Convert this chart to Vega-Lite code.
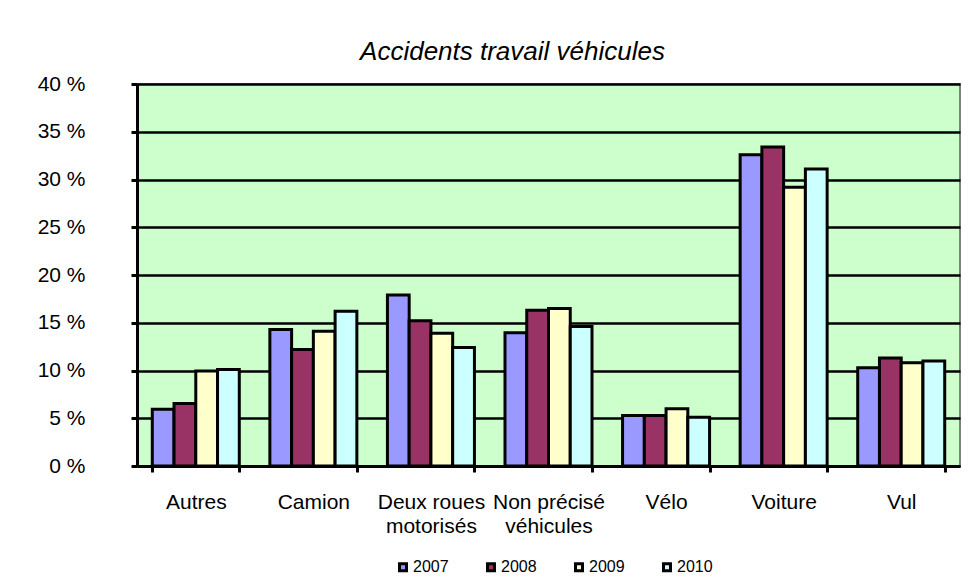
{
  "$schema": "https://vega.github.io/schema/vega-lite/v6.json",
  "width": 823,
  "height": 382,
  "autosize": {"type": "none"},
  "padding": {"left": 137, "top": 84, "right": 15, "bottom": 121},
  "background": "white",
  "title": {
    "text": "Accidents travail véhicules",
    "font": "Liberation Sans",
    "fontSize": 26,
    "fontStyle": "italic",
    "fontWeight": "normal",
    "color": "black",
    "anchor": "middle",
    "frame": "group",
    "dx": -36,
    "offset": 8
  },
  "data": {
    "values": [
      {"cat": "Autres", "year": "2007", "v": 5.95},
      {"cat": "Autres", "year": "2008", "v": 6.55},
      {"cat": "Autres", "year": "2009", "v": 9.95},
      {"cat": "Autres", "year": "2010", "v": 10.1},
      {"cat": "Camion", "year": "2007", "v": 14.3},
      {"cat": "Camion", "year": "2008", "v": 12.2},
      {"cat": "Camion", "year": "2009", "v": 14.1},
      {"cat": "Camion", "year": "2010", "v": 16.2},
      {"cat": "Deux roues motorisés", "year": "2007", "v": 17.9},
      {"cat": "Deux roues motorisés", "year": "2008", "v": 15.2},
      {"cat": "Deux roues motorisés", "year": "2009", "v": 13.9},
      {"cat": "Deux roues motorisés", "year": "2010", "v": 12.4},
      {"cat": "Non précisé véhicules", "year": "2007", "v": 13.95},
      {"cat": "Non précisé véhicules", "year": "2008", "v": 16.3},
      {"cat": "Non précisé véhicules", "year": "2009", "v": 16.5},
      {"cat": "Non précisé véhicules", "year": "2010", "v": 14.6},
      {"cat": "Vélo", "year": "2007", "v": 5.3},
      {"cat": "Vélo", "year": "2008", "v": 5.3},
      {"cat": "Vélo", "year": "2009", "v": 6.0},
      {"cat": "Vélo", "year": "2010", "v": 5.1},
      {"cat": "Voiture", "year": "2007", "v": 32.6},
      {"cat": "Voiture", "year": "2008", "v": 33.4},
      {"cat": "Voiture", "year": "2009", "v": 29.2},
      {"cat": "Voiture", "year": "2010", "v": 31.1},
      {"cat": "Vul", "year": "2007", "v": 10.3},
      {"cat": "Vul", "year": "2008", "v": 11.3},
      {"cat": "Vul", "year": "2009", "v": 10.8},
      {"cat": "Vul", "year": "2010", "v": 11.0}
    ]
  },
  "mark": {"type": "bar", "stroke": "black", "strokeWidth": 3, "strokeJoin": "miter"},
  "encoding": {
    "x": {
      "field": "cat",
      "type": "nominal",
      "sort": null,
      "scale": {"paddingInner": 0.26, "paddingOuter": 0.13},
      "axis": {
        "title": null,
        "labelAngle": 0,
        "labelFont": "Liberation Sans",
        "labelFontSize": 21,
        "labelLineHeight": 24,
        "labelColor": "black",
        "labelPadding": 19,
        "labelLimit": 300,
        "labelExpr": "datum.value == 'Deux roues motorisés' ? ['Deux roues', 'motorisés'] : datum.value == 'Non précisé véhicules' ? ['Non précisé', 'véhicules'] : datum.value",
        "domainColor": "black",
        "domainWidth": 3,
        "tickColor": "black",
        "tickWidth": 3,
        "tickSize": 6,
        "tickBand": "extent",
        "grid": false
      }
    },
    "xOffset": {"field": "year", "type": "nominal", "scale": {"paddingInner": 0, "paddingOuter": 0}},
    "y": {
      "field": "v",
      "type": "quantitative",
      "scale": {"domain": [0, 40], "nice": false},
      "axis": {
        "title": null,
        "values": [0, 5, 10, 15, 20, 25, 30, 35, 40],
        "labelExpr": "datum.value + ' %'",
        "labelFont": "Liberation Sans",
        "labelFontSize": 21,
        "labelColor": "black",
        "labelPadding": 46,
        "domainColor": "black",
        "domainWidth": 3,
        "tickColor": "black",
        "tickWidth": 3,
        "tickSize": 6,
        "grid": true,
        "gridColor": "black",
        "gridWidth": 2.5
      }
    },
    "fill": {
      "field": "year",
      "type": "nominal",
      "scale": {"domain": ["2007", "2008", "2009", "2010"], "range": ["#9999FF", "#993366", "#FFFFCC", "#CCFFFF"]},
      "legend": {
        "title": null,
        "orient": "none",
        "legendX": 258,
        "legendY": 475,
        "direction": "horizontal",
        "symbolType": "square",
        "symbolSize": 49,
        "symbolStrokeColor": "black",
        "symbolStrokeWidth": 3,
        "labelFont": "Liberation Sans",
        "labelFontSize": 16,
        "labelColor": "black",
        "labelOffset": 2,
        "columnPadding": 32
      }
    }
  },
  "config": {
    "view": {"fill": "#CCFFCC", "stroke": "#808080", "strokeWidth": 2}
  }
}
